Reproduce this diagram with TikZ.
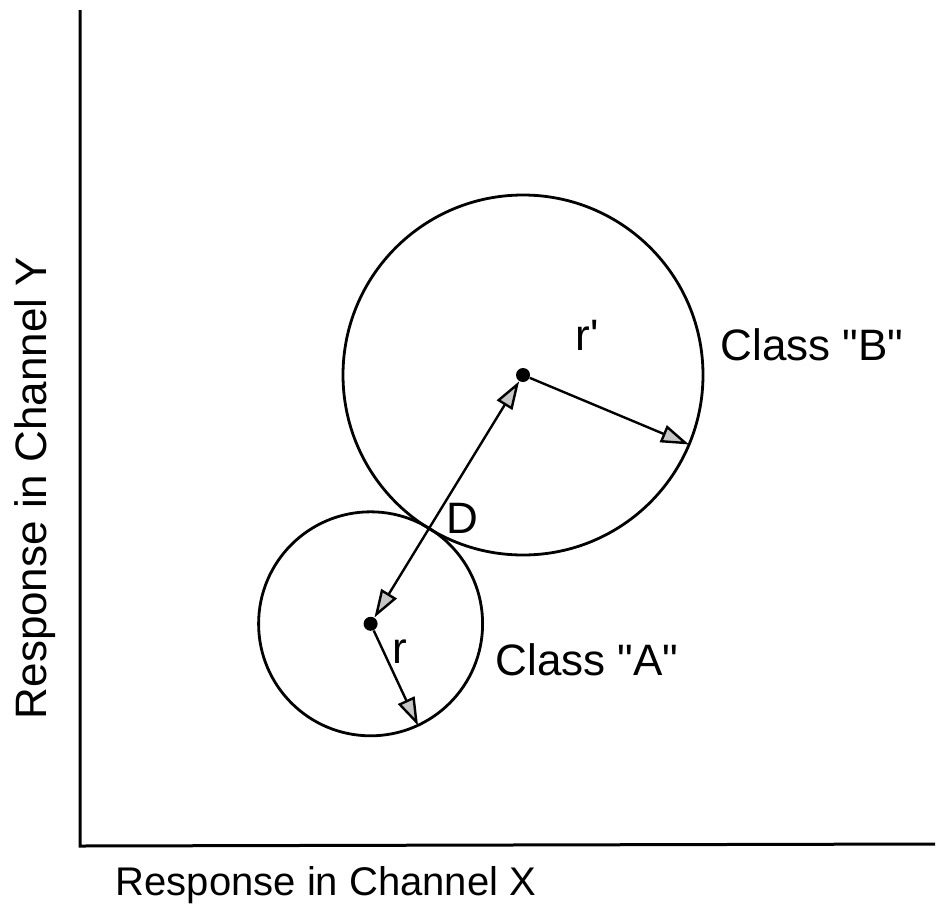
\documentclass[tikz,border=0pt]{standalone}
\usepackage{fontspec}
\setmainfont{Liberation Sans}[Ligatures=TeXOff]
\usetikzlibrary{arrows.meta,calc}
\begin{document}
\begin{tikzpicture}[x=0.5pt,y=-0.5pt,
 axis/.style={line width=1.5pt},
 ring/.style={line width=1.4pt},
 vec/.style={line width=1.2pt,-{Triangle[length=14pt,width=9pt,fill=gray!45]}},
 lbl/.style={font=\fontsize{22}{24}\selectfont,inner sep=0pt},
 dotc/.style={circle,fill=black,inner sep=0pt,minimum size=7pt}]
\useasboundingbox (0,0) rectangle (942,916);
\coordinate (O) at (80,846);
\coordinate (Ytop) at (80,10);
\coordinate (Xend) at (935,844);
\draw[axis] (Ytop) -- (O) -- (Xend);
\node[dotc] (cB) at (523,375) {};
\node[dotc] (cA) at (370.6,623.8) {};
\draw[ring] (cB.center) circle[radius=180];
\draw[ring] (cA.center) circle[radius=112];
\coordinate (D) at ($(cB.center)!0.6164!(cA.center)$);
\coordinate (eB) at (689,444.5);
\coordinate (eA) at (418,725.5);
\draw[vec] (D) -- (cB);
\draw[vec] (D) -- (cA);
\draw[vec] (cB) -- (eB);
\draw[vec] (cA) -- (eA);
\node[lbl] (rp) at (587,335) {r'};
\node[lbl] (r) at (400,652) {r};
\node[lbl] (Dl) at (462,518) {D};
\node[lbl] (cb) at (812,345) {Class "B"};
\node[lbl] (ca) at (587,660) {Class "A"};
\node[lbl,font=\fontsize{20}{22}\selectfont] (xl) at (326,885) {Response in Channel X};
\node[lbl,rotate=90] (yl) at (35,488) {Response in Channel Y};
\end{tikzpicture}
\end{document}
